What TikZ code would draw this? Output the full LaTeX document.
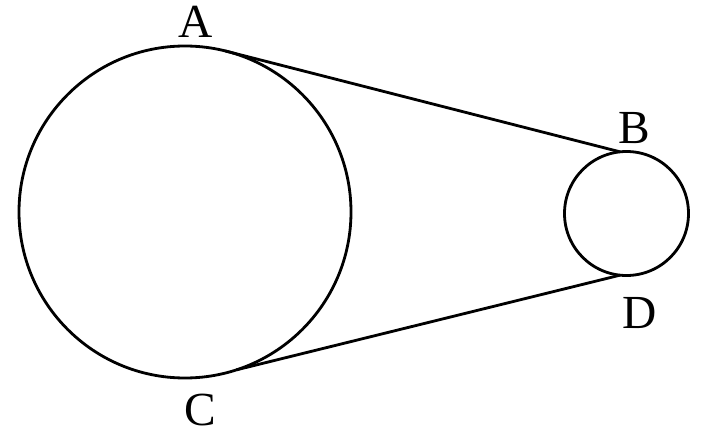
\documentclass[tikz,border=0pt]{standalone}
\usepackage{fontspec}
\setmainfont{Liberation Serif}
\usetikzlibrary{calc}
\tikzset{
  pulley/.style={line width=1.6pt},
  belt/.style={line width=1.6pt},
  ptLabel/.style={font={\fontsize{27}{30}\selectfont}, inner sep=0pt}
}
\begin{document}
\begin{tikzpicture}[x=0.2mm, y=0.2mm]
      \useasboundingbox (0,0) rectangle (702,436);

      \coordinate (bigC) at (185,224);
      \coordinate (smallC) at (626.5,222.5);
      \draw[pulley] (bigC) circle (3.32cm);
      \draw[pulley] (smallC) circle (1.24cm);

      \coordinate (A) at ($(bigC)+(76:3.32cm)$);
      \coordinate (B) at ($(smallC)+(96:1.24cm)$);
      \coordinate (C) at ($(bigC)+(-72:3.32cm)$);
      \coordinate (D) at ($(smallC)+(-96:1.24cm)$);
      \draw[belt] (A) -- (B);
      \draw[belt] (C) -- (D);

      \node[ptLabel] (labelA) at (196,414) {A};
      \node[ptLabel] (labelB) at (634,308) {B};
      \node[ptLabel] (labelC) at (200,26) {C};
      \node[ptLabel] (labelD) at (640,123) {D};
      
    \end{tikzpicture}
\end{document}
